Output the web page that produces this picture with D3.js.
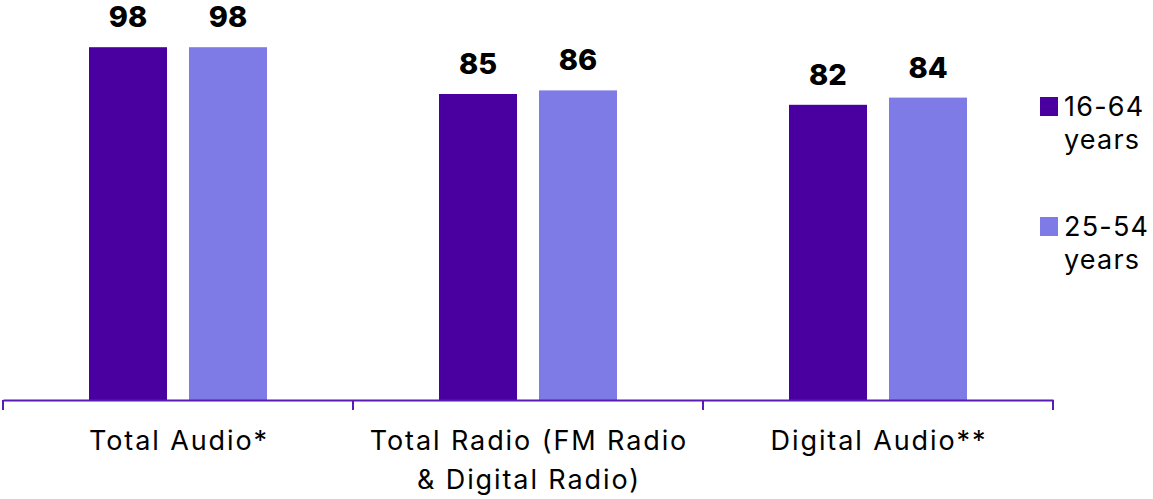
<!DOCTYPE html>
<html><head><meta charset="utf-8">
<script src="https://cdn.jsdelivr.net/npm/d3@7"></script>
<style>body{margin:0;background:#fff;} svg{display:block;}</style>
</head><body>
<svg id="chart" width="1153" height="499"></svg>
<script>
const categories = ["Total Audio*", "Total Radio (FM Radio|& Digital Radio)", "Digital Audio**"];
const seriesNames = ["16-64|years", "25-54|years"];
const series1664 = [98, 85, 82];
const series2554 = [98, 86, 84];
const colors = ["#4A00A0", "#7E7AE6"];

const svg = d3.select("#chart");
const font = "Inter, 'Open Sans', sans-serif";
const x = d3.scaleBand().domain(categories).range([3, 1053]).padding(0);
const y = d3.scaleLinear().domain([0, 100]).range([400, 40]);
const inner = d3.scaleBand().domain([0, 1]).range([86, 264]).paddingInner(0.22).paddingOuter(0);

const data = categories.map((c, i) => ({c, vals: [series1664[i], series2554[i]]}));

const g = svg.append("g");
data.forEach(d => {
  d.vals.forEach((v, s) => {
    g.append("rect")
      .attr("x", x(d.c) + inner(s))
      .attr("y", y(v))
      .attr("width", inner.bandwidth())
      .attr("height", y(0) - y(v))
      .attr("fill", colors[s]);
    g.append("text")
      .attr("x", x(d.c) + inner(s) + inner.bandwidth()/2)
      .attr("y", y(v) - 20)
      .attr("text-anchor", "middle")
      .attr("font-family", font)
      .attr("font-weight", 800)
      .attr("font-size", 29)
      .attr("fill", "#000")
      .text(v);
  });
});

// axis
const axis = svg.append("g").attr("transform", "translate(0,400)")
  .call(d3.axisBottom(x).tickSize(0).tickFormat(""));
axis.select(".domain").attr("stroke", "#5A1AB4").attr("stroke-width", 2);
const bounds = categories.map(c => x(c)).concat([x(categories[categories.length-1]) + x.bandwidth()]);
axis.selectAll(".bound").data(bounds).enter().append("line")
  .attr("x1", d => d).attr("x2", d => d).attr("y1", 0).attr("y2", 10)
  .attr("stroke", "#5A1AB4").attr("stroke-width", 2);

// category labels
categories.forEach(c => {
  const lines = c.split("|");
  const t = svg.append("text")
    .attr("text-anchor", "middle")
    .attr("font-family", font)
    .attr("font-size", 27)
    .attr("letter-spacing", 1.9)
    .attr("fill", "#000");
  lines.forEach((l, i) => {
    t.append("tspan").attr("x", x(c) + x.bandwidth()/2 + 1).attr("y", 450 + i*39).text(l);
  });
});

// legend
seriesNames.forEach((n, i) => {
  const y0 = 97 + i*120;
  svg.append("rect").attr("x", 1040).attr("y", y0).attr("width", 18).attr("height", 19).attr("fill", colors[i]);
  const t = svg.append("text").attr("font-family", font).attr("font-size", 27)
    .attr("letter-spacing", 1.2).attr("fill", "#000");
  n.split("|").forEach((l, j) => {
    t.append("tspan").attr("x", 1064).attr("y", y0 + 19 + j*33).text(l);
  });
});
</script>
</body></html>
